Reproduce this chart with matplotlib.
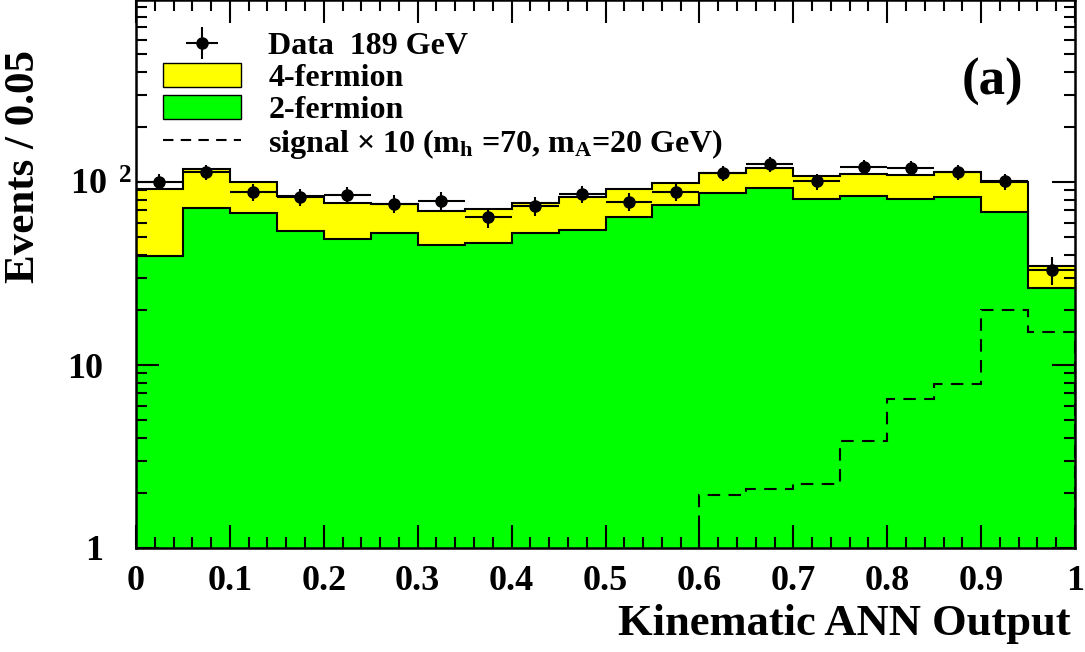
"""
Kinematic ANN output at 189 GeV: data vs. stacked 2f/4f background, with signal x10.
"""

import numpy as np
import matplotlib
matplotlib.use("Agg")
import matplotlib.pyplot as plt
import matplotlib.patches as mpatches
from matplotlib.lines import Line2D
from matplotlib.ticker import FixedLocator, NullFormatter
from matplotlib.transforms import ScaledTranslation

# ── Histogram contents (20 bins of 0.05) ──────────────────────────────
BIN_EDGES = np.linspace(0.0, 1.0, 21)

# total background (2-fermion + 4-fermion)
TOTAL_BKG = [91.6, 117.8, 100.0, 83.8, 76.8, 75.8, 69.5, 71.2, 76.8, 82.8,
             91.6, 98.8, 112.0, 119.0, 108.0, 110.6, 109.3, 113.4, 100.0, 34.8]

# 2-fermion only
TWO_FERMION = [39.4, 72.0, 67.7, 54.0, 48.8, 52.6, 45.3, 46.4, 52.6, 54.7,
               64.4, 74.8, 87.1, 92.8, 80.7, 83.8, 80.7, 82.8, 68.6, 26.4]

# observed events
DATA = [100, 113, 88, 83, 85, 76, 79, 64, 74, 86,
        78, 88, 112, 125, 101, 121, 119, 113, 101, 33]

# signal (mh=70, mA=20 GeV) scaled by 10, empty below 0.6
SIGNAL_X10 = [0, 0, 0, 0, 0, 0, 0, 0, 0, 0,
              0, 0, 1.95, 2.10, 2.24, 3.84, 6.52, 7.87, 20.0, 15.1]

YELLOW = "#ffff00"
GREEN = "#00ff00"

plt.rcParams["font.family"] = "Liberation Serif"
plt.rcParams["font.weight"] = "bold"
plt.rcParams["axes.labelweight"] = "bold"
plt.rcParams["mathtext.fontset"] = "custom"
plt.rcParams["mathtext.rm"] = "Liberation Serif:bold"
plt.rcParams["mathtext.it"] = "Liberation Serif:bold"
plt.rcParams["mathtext.bf"] = "Liberation Serif:bold"

W, H = 1085, 652
fig = plt.figure(figsize=(W / 100, H / 100), dpi=100)
ax = fig.add_axes([136 / W, 1 - 548 / H, 939 / W, 548 / H])
ax.set_yscale("log")

total = np.array(TOTAL_BKG)
twof = np.array(TWO_FERMION)
data = np.array(DATA, dtype=float)
sig = np.array(SIGNAL_X10)
centers = 0.5 * (BIN_EDGES[:-1] + BIN_EDGES[1:])
halfw = 0.5 * np.diff(BIN_EDGES)

# stacked backgrounds
ax.stairs(twof, BIN_EDGES, baseline=0.1, fill=True, color=GREEN, zorder=1)
ax.stairs(total, BIN_EDGES, baseline=twof, fill=True, color=YELLOW, zorder=1)
ax.stairs(twof, BIN_EDGES, baseline=None, color="black", lw=1.5, zorder=2)
ax.stairs(total, BIN_EDGES, baseline=None, color="black", lw=1.5, zorder=2)

# signal x10
on = np.nonzero(sig)[0]
ax.stairs(sig[on], BIN_EDGES[on[0]:on[-1] + 2], baseline=1e-3,
          color="black", lw=1.5, ls=(0, (6, 4)), zorder=3)

# data with poisson errors
ax.errorbar(centers, data, yerr=np.sqrt(data), xerr=halfw, fmt="o",
            color="black", ms=8, elinewidth=1.5, capsize=0, zorder=4)

ax.set_xlim(0, 1)
ax.set_ylim(1, 10 ** (548 / 183))

# ticks
ax.xaxis.set_major_locator(FixedLocator(np.arange(0, 1.01, 0.1)))
ax.xaxis.set_minor_locator(FixedLocator(np.arange(0, 1.001, 0.02)))
ax.set_xticklabels(["0", "0.1", "0.2", "0.3", "0.4", "0.5",
                    "0.6", "0.7", "0.8", "0.9", "1"])
ax.yaxis.set_major_locator(FixedLocator([1, 10, 100]))
ax.yaxis.set_minor_locator(FixedLocator(
    [m * 10 ** d for d in range(3) for m in range(2, 10)]))
ax.yaxis.set_minor_formatter(NullFormatter())
ax.set_yticklabels(["1", "10", "10$^{\\;\\;2}$"])

ax.tick_params(axis="both", which="both", direction="in", width=1.5,
               top=True, right=True, labelsize=26)
ax.tick_params(axis="both", which="major", length=16.5)
ax.tick_params(axis="both", which="minor", length=8)
ax.tick_params(axis="x", pad=12)
ax.tick_params(axis="y", pad=24)
for side in ax.spines.values():
    side.set_linewidth(1.8)

# keep the "10" of 10^2 in line with the other labels
lab = ax.yaxis.get_major_ticks()[2].label1
lab.set_transform(lab.get_transform() + ScaledTranslation(29 / 100, 0, fig.dpi_scale_trans))

ax.set_xlabel("Kinematic ANN Output", fontsize=32, loc="right")
ax.xaxis.set_label_coords(1.0 - 4 / 939, -56 / 548)
ax.set_ylabel("Events / 0.05", fontsize=31, loc="top")
ax.yaxis.set_label_coords(-93 / 939, (548 - 50) / 548)

ax.text(0.9116, 0.850, "(a)", transform=ax.transAxes, fontsize=38,
        ha="center", va="center")

# legend
handles = [
    ax.errorbar([], [], yerr=[], xerr=[], fmt="o", color="black", ms=8,
                elinewidth=1.5, capsize=0),
    mpatches.Patch(facecolor=YELLOW, edgecolor="black", lw=1),
    mpatches.Patch(facecolor=GREEN, edgecolor="black", lw=1),
    Line2D([], [], color="black", lw=1.5, ls=(0, (5, 3.5))),
]
labels = [
    "Data  189 GeV",
    "4-fermion",
    "2-fermion",
    "signal × 10 (m$_\\mathrm{h}$ =70, m$_\\mathrm{A}$=20 GeV)",
]
ax.legend(handles, labels, loc="upper left", bbox_to_anchor=(27 / 939, 1 - 31 / 548),
          frameon=False, fontsize=23, borderpad=0, borderaxespad=0,
          handlelength=2.45, handleheight=0.8, handletextpad=0.85,
          labelspacing=0.05)

fig.savefig("out.png", dpi=100)
